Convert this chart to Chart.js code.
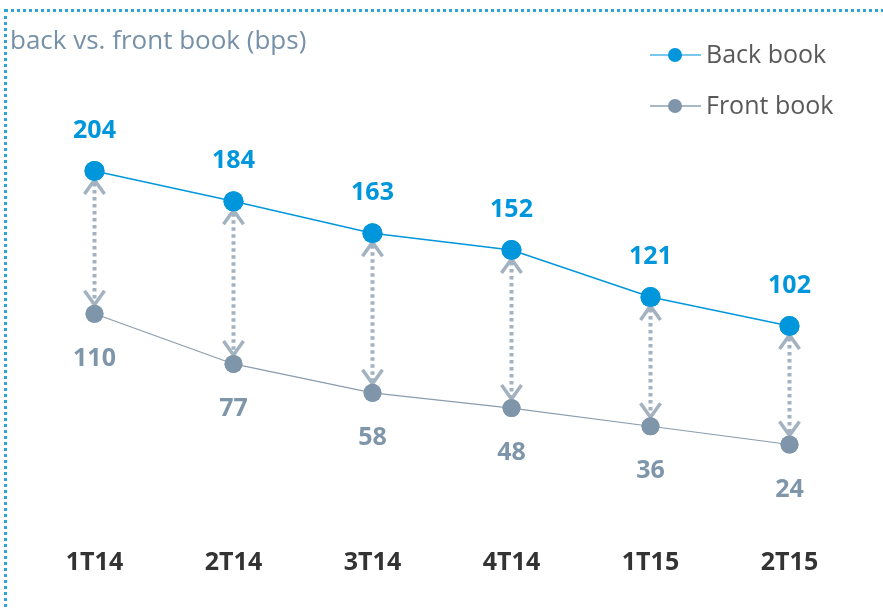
<!DOCTYPE html>
<html><head><meta charset="utf-8">
<script src="https://cdn.jsdelivr.net/npm/chart.js@4/dist/chart.umd.min.js"></script>
<style>
html,body{margin:0;padding:0;background:#fff;}
#wrap{position:absolute;left:0;top:0;width:883px;height:610px;overflow:hidden;}
#frame{position:absolute;left:4px;top:9px;width:900px;height:700px;border-top:3px dotted #2ea3d8;border-left:3px dotted #2ea3d8;box-sizing:border-box;}
canvas{position:absolute;left:0;top:0;}
</style></head>
<body>
<div id="wrap"><div id="frame"></div><canvas id="c" width="883" height="610"></canvas></div>
<script>
const categories = ["1T14","2T14","3T14","4T14","1T15","2T15"];
const backBook = [204,184,163,152,121,102];
const frontBook = [110,77,58,48,36,24];
const seriesNames = ["Back book","Front book"];
const titleText = "back vs. front book (bps)";

const BLUE = "#0096db", GREY = "#7f96aa", ARROW = "#a3b2c0";
const FONT = "'Open Sans', 'Noto Sans', sans-serif";

const overlay = {
  id: "overlay",
  afterDatasetsDraw(chart) {
    const ctx = chart.ctx;
    const x = chart.scales.x, y = chart.scales.y;
    ctx.save();
    for (let i = 0; i < categories.length; i++) {
      const px = x.getPixelForValue(i);
      const yt = y.getPixelForValue(backBook[i]);
      const yb = y.getPixelForValue(frontBook[i]);
      ctx.strokeStyle = ARROW;
      ctx.lineWidth = 4;
      ctx.setLineDash([3.5, 3.5]);
      ctx.beginPath(); ctx.moveTo(px, yt + 12); ctx.lineTo(px, yb - 12); ctx.stroke();
      ctx.setLineDash([]);
      ctx.lineWidth = 3.5;
      ctx.lineCap = "butt";
      ctx.beginPath();
      ctx.moveTo(px - 10, yt + 23); ctx.lineTo(px, yt + 9); ctx.lineTo(px + 10, yt + 23);
      ctx.stroke();
      ctx.beginPath();
      ctx.moveTo(px - 10, yb - 23); ctx.lineTo(px, yb - 9); ctx.lineTo(px + 10, yb - 23);
      ctx.stroke();
    }
    ctx.restore();
  },
  afterDraw(chart) {
    const ctx = chart.ctx;
    const x = chart.scales.x, y = chart.scales.y;
    ctx.save();
    chart.data.datasets.forEach((ds, di) => {
      const meta = chart.getDatasetMeta(di);
      meta.data.forEach(pt => {
        ctx.fillStyle = ds.pointBackgroundColor;
        ctx.beginPath(); ctx.arc(pt.x, pt.y, ds.pointRadius, 0, Math.PI * 2); ctx.fill();
      });
    });
    ctx.textAlign = "center"; ctx.textBaseline = "middle";
    ctx.font = "bold 25px " + FONT;
    for (let i = 0; i < categories.length; i++) {
      const px = x.getPixelForValue(i);
      ctx.fillStyle = BLUE;
      ctx.fillText(String(backBook[i]), px, y.getPixelForValue(backBook[i]) - 40);
      ctx.fillStyle = GREY;
      ctx.fillText(String(frontBook[i]), px, y.getPixelForValue(frontBook[i]) + 45);
      ctx.fillStyle = "#333333";
      ctx.fillText(categories[i], px, 563);
    }
    ctx.textAlign = "left";
    ctx.font = "26px " + FONT;
    ctx.fillStyle = "#7690a8";
    ctx.fillText(titleText, 10, 42);
    const leg = [[BLUE, "#4cb6e6", 55], [GREY, "#8aa0b3", 106]];
    leg.forEach((l, k) => {
      const ly = l[2];
      ctx.strokeStyle = l[1]; ctx.lineWidth = 1.5;
      ctx.beginPath(); ctx.moveTo(650, ly); ctx.lineTo(701, ly); ctx.stroke();
      ctx.fillStyle = l[0];
      ctx.beginPath(); ctx.arc(675, ly, 7, 0, Math.PI * 2); ctx.fill();
      ctx.fillStyle = "#595959"; ctx.font = "25px " + FONT;
      ctx.fillText(seriesNames[k], 706, ly + 1);
    });
    ctx.restore();
  }
};

new Chart(document.getElementById("c"), {
  type: "line",
  data: {
    labels: categories,
    datasets: [
      { label: seriesNames[0], data: backBook, borderColor: BLUE, borderWidth: 1.5,
        pointBackgroundColor: BLUE, pointBorderWidth: 0, pointRadius: 10, tension: 0 },
      { label: seriesNames[1], data: frontBook, borderColor: "#8a9cae", borderWidth: 1.2,
        pointBackgroundColor: GREY, pointBorderWidth: 0, pointRadius: 9, tension: 0 }
    ]
  },
  options: {
    responsive: false, animation: false, devicePixelRatio: 1,
    layout: { padding: { left: 25, right: 24, top: 101, bottom: 129 } },
    plugins: { legend: { display: false }, tooltip: { enabled: false } },
    scales: {
      x: { display: false, offset: true },
      y: { display: false, min: 0, max: 250 }
    }
  },
  plugins: [overlay]
});
</script>
</body></html>
